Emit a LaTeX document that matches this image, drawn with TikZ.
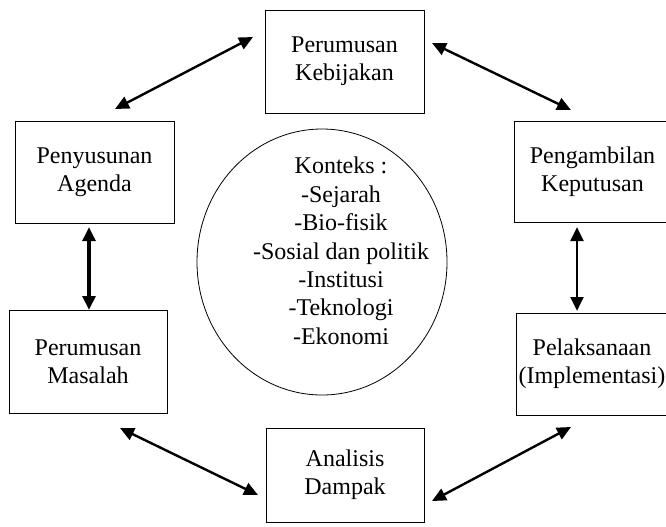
\documentclass[tikz,border=0pt]{standalone}
\usepackage{fontspec}
\setmainfont{Liberation Serif}
\usetikzlibrary{arrows.meta}
\usetikzlibrary{shapes}

\tikzset{
  box/.style={draw, line width=0.6pt, rectangle, inner sep=0pt, align=center, font=\fontsize{18}{21}\selectfont},
  twoway/.style={line width=1.8pt, {Triangle[length=10.5pt,width=9.5pt]}-{Triangle[length=10.5pt,width=9.5pt]}},
}

\begin{document}
\begin{tikzpicture}[x=0.75pt,y=0.75pt,yscale=-1,xscale=1]
\useasboundingbox (0,0) rectangle (666,526);

%Shape: Rectangle [kebijakan]
\node [box, minimum width=119.25pt, minimum height=77.25pt] (kebijakan) at (344.5,61.5) {Perumusan\\Kebijakan};
%Shape: Rectangle [agenda]
\node [box, minimum width=119.25pt, minimum height=76.5pt] (agenda) at (94.5,172) {Penyusunan\\Agenda};
%Shape: Rectangle [masalah]
\node [box, minimum width=118.5pt, minimum height=77.25pt] (masalah) at (88,361.5) {Perumusan\\Masalah};
%Shape: Rectangle [dampak]
\node [box, minimum width=118.5pt, minimum height=70.5pt] (dampak) at (345,475) {Analisis\\Dampak};
%Shape: Rectangle [keputusan]
\node [box, minimum width=117.75pt, minimum height=75.75pt] (keputusan) at (592.5,171.5) {Pengambilan\\Keputusan};
%Shape: Rectangle [implementasi]
\node [box, minimum width=114pt, minimum height=76.5pt] (implementasi) at (592,364) {Pelaksanaan\\(Implementasi)};

%Shape: Ellipse
\node [draw, ellipse, line width=0.6pt, minimum width=187.5pt, minimum height=199.5pt, inner sep=0pt] (ctx) at (322,262) {};
% Text Node
\node [align=center, anchor=north, inner sep=0pt, font=\fontsize{18}{21.3}\selectfont] (konteks) at (341,157) {Konteks :\\-Sejarah\\-Bio-fisik\\-Sosial dan politik\\-Institusi\\-Teknologi\\-Ekonomi};

% arrow ends
\coordinate (agenda-ne) at (115,109);
\coordinate (kebijakan-w) at (253,37);
\coordinate (kebijakan-e) at (432,43);
\coordinate (keputusan-nw) at (571,110);
\coordinate (agenda-s) at (89,227);
\coordinate (masalah-n) at (89,310);
\coordinate (keputusan-s) at (577,227);
\coordinate (implementasi-n) at (577,311);
\coordinate (masalah-se) at (120,428);
\coordinate (dampak-w) at (258,495);
\coordinate (dampak-e) at (432,501);
\coordinate (implementasi-sw) at (571,427);

%Straight Lines
\draw [twoway] (agenda-ne) -- (kebijakan-w);
\draw [twoway] (kebijakan-e) -- (keputusan-nw);
\draw [twoway, line width=3.5pt] (agenda-s) -- (masalah-n);
\draw [twoway, line width=2.2pt] (keputusan-s) -- (implementasi-n);
\draw [twoway] (masalah-se) -- (dampak-w);
\draw [twoway] (dampak-e) -- (implementasi-sw);

\end{tikzpicture}
\end{document}
